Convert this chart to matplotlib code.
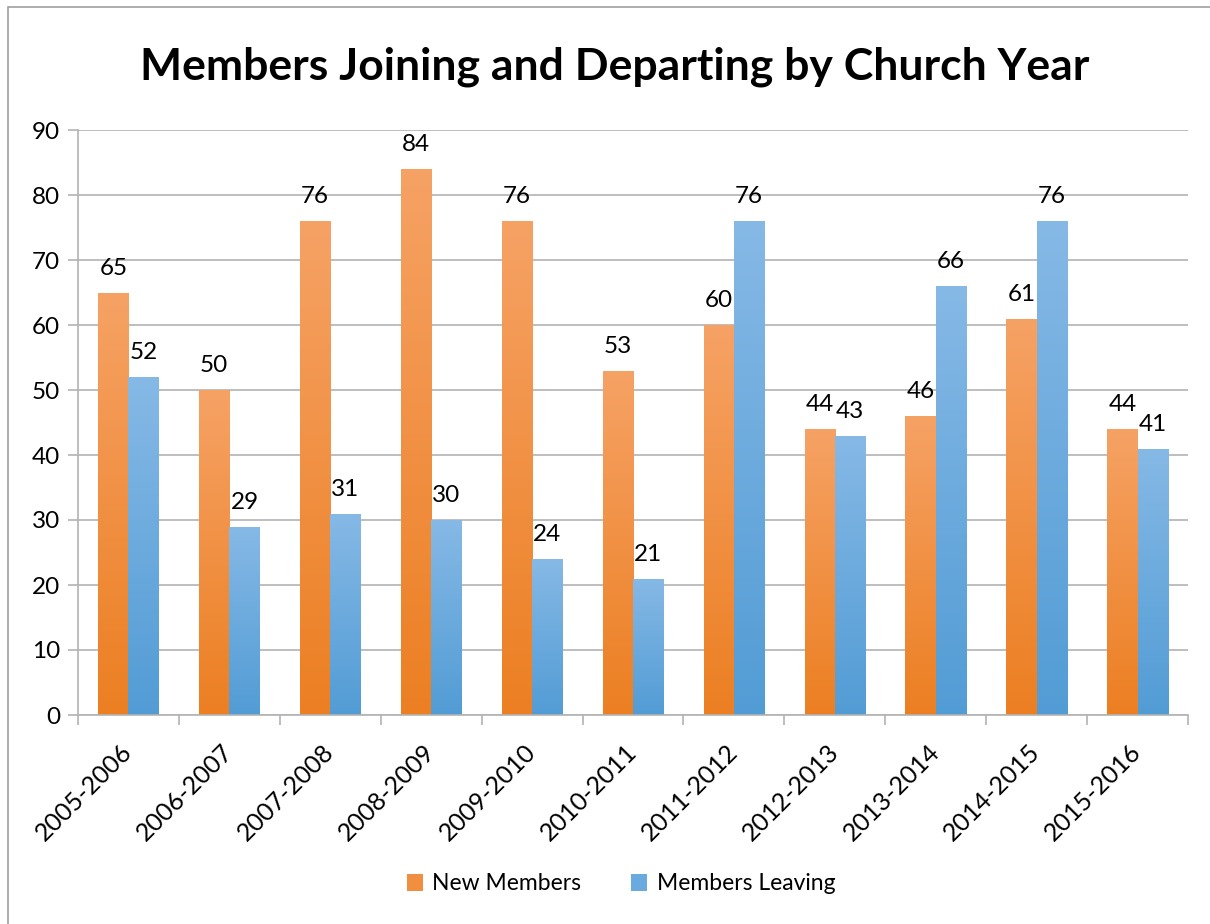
import numpy as np
import matplotlib.pyplot as plt
from matplotlib.colors import LinearSegmentedColormap
from matplotlib.patches import Rectangle, Patch

plt.rcParams['font.family'] = ['Lato', 'DejaVu Sans']

years = ['2005-2006', '2006-2007', '2007-2008', '2008-2009', '2009-2010', '2010-2011',
         '2011-2012', '2012-2013', '2013-2014', '2014-2015', '2015-2016']
new_members = [65, 50, 76, 84, 76, 53, 60, 44, 46, 61, 44]
members_leaving = [52, 29, 31, 30, 24, 21, 76, 43, 66, 76, 41]

orange_top, orange_bot = '#F6A265', '#EC7F22'
blue_top, blue_bot = '#86B9E6', '#529CD5'
grid_col = '#B3B3B3'

fig = plt.figure(figsize=(12.1, 9.24), dpi=100)
ax = fig.add_axes([78 / 1210, 1 - 715 / 924, 1110 / 1210, 585 / 924])

# chart frame (left/top edges visible)
fig.patches.append(Rectangle((8 / 1210, -0.1), 1.2, 1 - 7 / 924 + 0.1, transform=fig.transFigure,
                             fill=False, edgecolor='#A0A0A0', linewidth=1.2))

x = np.arange(len(years))
w = 0.3
grad = np.linspace(0, 1, 256).reshape(-1, 1)


def gradient_bars(xpos, values, top, bot, label):
    cmap = LinearSegmentedColormap.from_list(label, [bot, top])
    bars = ax.bar(xpos, values, w, color='none', edgecolor='none', zorder=2)
    for b, v in zip(bars, values):
        im = ax.imshow(grad, extent=[b.get_x(), b.get_x() + b.get_width(), 0, b.get_height()],
                       origin='lower', aspect='auto', cmap=cmap, zorder=2)
        im.set_clip_path(b)
        ax.annotate(str(v), (b.get_x() + b.get_width() / 2, b.get_height()),
                    xytext=(0, 10), textcoords='offset points', ha='center', va='bottom',
                    fontsize=17.5)
    return bars


gradient_bars(x - w / 2, new_members, orange_top, orange_bot, 'new')
gradient_bars(x + w / 2, members_leaving, blue_top, blue_bot, 'leave')

ax.set_xlim(-0.5, len(years) - 0.5)
ax.set_ylim(0, 90)
ax.set_yticks(range(0, 91, 10))
ax.yaxis.grid(True, color=grid_col, linewidth=1.2)
ax.set_axisbelow(True)

# tick marks at category boundaries, labels at centres
ax.set_xticks(np.arange(-0.5, len(years), 1))
ax.set_xticklabels([])
ax.set_xticks(x, minor=True)
ax.set_xticklabels(years, minor=True, rotation=45, ha='right', va='center',
                   rotation_mode='anchor', fontsize=18)
ax.tick_params(axis='x', which='major', length=7, color=grid_col, width=1.2)
ax.tick_params(axis='x', which='minor', length=0, pad=24)
ax.tick_params(axis='y', length=7, color=grid_col, width=1.2, labelsize=17.5, pad=6)

for s in ['top', 'right']:
    ax.spines[s].set_visible(False)
for s in ['left', 'bottom']:
    ax.spines[s].set_color(grid_col)
    ax.spines[s].set_linewidth(1.2)

fig.text(615 / 1210, 1 - 67 / 924, 'Members Joining and Departing by Church Year',
         ha='center', va='center', fontsize=32, fontweight='bold')

handles = [Patch(facecolor='#F08F40', label='New Members'),
           Patch(facecolor='#6AAADF', label='Members Leaving')]
fig.legend(handles=handles, loc='center', bbox_to_anchor=(621 / 1210, 1 - 884 / 924), ncol=2,
           frameon=False, fontsize=16.5, handlelength=0.7, handleheight=0.7,
           handletextpad=0.4, columnspacing=2.2)

fig.savefig('out.png', dpi=100)
